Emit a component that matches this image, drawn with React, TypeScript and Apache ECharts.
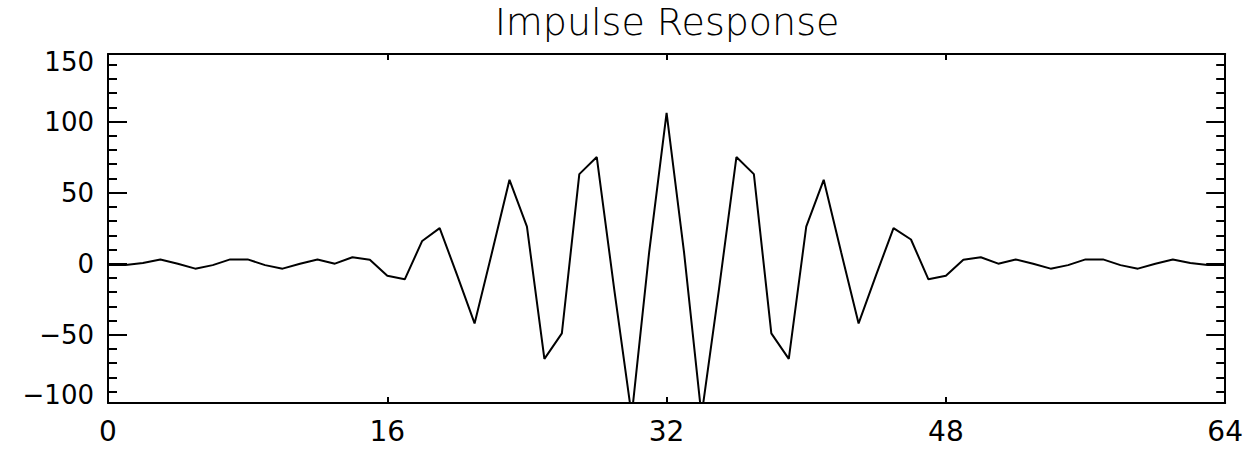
import React, { useEffect, useRef } from "react";
import * as echarts from "echarts";

// Impulse response samples, n = 0 .. 64
const impulseResponse = [
  -1, -1, 0.5, 3, 0, -3.5, -1, 3, 3, -1,
  -3.5, 0, 3, 0, 4.5, 2.8, -8.5, -11, 16, 25,
  -8, -42, 8, 59, 26, -67, -49, 63, 75, -18,
  -107, 8, 106, 8, -107, -18, 75, 63, -49, -67,
  26, 59, 8, -42, -8, 25, 17, -11, -8.5, 2.8,
  4.5, 0, 3, 0, -3.5, -1, 3, 3, -1, -3.5,
  0, 3, 0.5, -1, -1,
];

const xRange = [0, 64];
const xTickStep = 16;
const yRange = [-98, 147.5];
const yLabels = [-100, -50, 0, 50, 100, 150];
const yMajorTicks = [-50, 0, 50, 100];
const yMinorTicks = [
  -90, -80, -70, -60, -40, -30, -20, -10, 10, 20, 30, 40,
  60, 70, 80, 90, 110, 120, 130, 140,
];
const titleText = "Impulse Response";

const FONT = "'DejaVu Sans', sans-serif";

function fmt(v: number): string {
  return v < 0 ? "\u2212" + String(Math.abs(v)) : String(v);
}

export default function App() {
  const ref = useRef<HTMLDivElement>(null);

  useEffect(() => {
    if (!ref.current) return;
    const chart = echarts.init(ref.current, null, { renderer: "svg" });

    const clampedLabelValues = yLabels.map((v) =>
      Math.min(yRange[1], Math.max(yRange[0], v))
    );
    const labelFor = (val: number) => {
      const idx = clampedLabelValues.findIndex((c) => Math.abs(c - val) < 1e-6);
      return idx >= 0 ? fmt(yLabels[idx]) : "";
    };

    const axisLineStyle = { color: "#000", width: 2 };

    const yBase = (position: "left" | "right", ticks: number[], len: number, showLine: boolean, showLabel: boolean) => ({
      type: "value" as const,
      position,
      min: yRange[0],
      max: yRange[1],
      axisLine: { show: showLine, onZero: false, lineStyle: axisLineStyle },
      axisTick: {
        show: true,
        inside: true,
        length: len,
        customValues: ticks,
        lineStyle: { color: "#000", width: 2 },
      },
      axisLabel: showLabel
        ? {
            show: true,
            customValues: clampedLabelValues,
            formatter: (v: number) => labelFor(v),
            margin: 14,
            color: "#000",
            fontFamily: FONT,
            fontSize: 26,
            lineHeight: 16,
            verticalAlignMinLabel: "bottom",
            verticalAlignMaxLabel: "top",
          }
        : { show: false },
      splitLine: { show: false },
    });

    const xBase = (position: "bottom" | "top", showLabel: boolean) => ({
      type: "value" as const,
      position,
      min: xRange[0],
      max: xRange[1],
      interval: xTickStep,
      axisLine: { show: true, onZero: false, lineStyle: axisLineStyle },
      axisTick: {
        show: true,
        inside: true,
        length: 6,
        lineStyle: { color: "#000", width: 2 },
      },
      axisLabel: showLabel
        ? {
            show: true,
            margin: 14,
            color: "#000",
            fontFamily: FONT,
            fontSize: 28,
            lineHeight: 28,
          }
        : { show: false },
      splitLine: { show: false },
    });

    chart.setOption({
      animation: false,
      backgroundColor: "#fff",
      title: {
        text: titleText,
        left: 667,
        textAlign: "center",
        top: 0,
        padding: 0,
        textStyle: {
          fontFamily: FONT,
          fontSize: 38,
          fontWeight: 200,
          color: "#000",
          lineHeight: 44,
        },
      },
      grid: { left: 108, right: 19, top: 54, bottom: 48, containLabel: false },
      xAxis: [xBase("bottom", true), xBase("top", false)],
      yAxis: [
        yBase("left", yMajorTicks, 19, true, true),
        yBase("left", yMinorTicks, 9, false, false),
        yBase("right", yMajorTicks, 19, true, false),
        yBase("right", yMinorTicks, 9, false, false),
      ],
      series: [
        {
          type: "line",
          xAxisIndex: 0,
          yAxisIndex: 0,
          data: impulseResponse.map((v, i) => [i, v]),
          showSymbol: false,
          symbol: "none",
          clip: true,
          lineStyle: { color: "#000", width: 2 },
        },
      ],
    });

    return () => chart.dispose();
  }, []);

  return (
    <div
      ref={ref}
      style={{
        position: "fixed",
        left: 0,
        top: 0,
        width: 1246,
        height: 451,
        background: "#fff",
      }}
    />
  );
}
